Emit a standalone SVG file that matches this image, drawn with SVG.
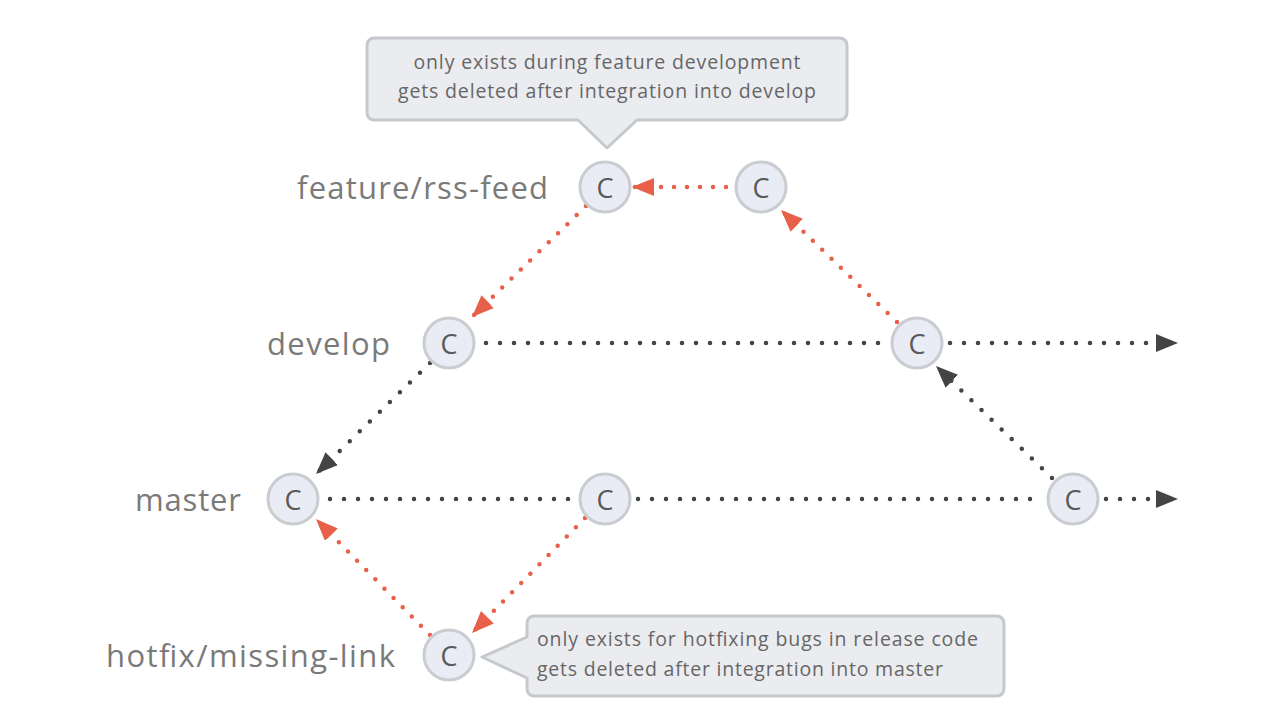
<svg xmlns="http://www.w3.org/2000/svg" width="1278" height="728" viewBox="0 0 1278 728">
<style>
.lbl{font-family:"Open Sans","Liberation Sans",sans-serif;font-size:31px;fill:#7a7a7a;text-anchor:end;dominant-baseline:central}
.node circle{fill:#e9ecf4;stroke:#c9ccd1;stroke-width:3}
.node text{font-family:"Open Sans","Liberation Sans",sans-serif;font-size:27px;fill:#5a5a5a;text-anchor:middle;dominant-baseline:central}
.blk{fill:none;stroke:#444;stroke-width:4.5;stroke-linecap:round;stroke-dasharray:0 14}
.red{fill:none;stroke:#e8604a;stroke-width:4.5;stroke-linecap:round;stroke-dasharray:0 13}
.call{fill:#ebecf0;stroke:#c5c8cc;stroke-width:3;stroke-linejoin:round}
.ct{font-family:"Open Sans","Liberation Sans",sans-serif;font-size:19.5px;fill:#666}
</style>
<defs>
<marker id="ab" viewBox="0 0 22 18" refX="22" refY="9" markerWidth="22" markerHeight="18" markerUnits="userSpaceOnUse" orient="auto"><path d="M0,0 L22,9 L0,18 z" fill="#444"/></marker>
<marker id="ar" viewBox="0 0 22 18" refX="22" refY="9" markerWidth="22" markerHeight="18" markerUnits="userSpaceOnUse" orient="auto"><path d="M0,0 L22,9 L0,18 z" fill="#e8604a"/></marker>
</defs>
<rect width="1278" height="728" fill="#fff"/>
<g id="labels">
<text class="lbl" x="548" y="187" textLength="251" lengthAdjust="spacing">feature/rss-feed</text>
<text class="lbl" x="390" y="343" textLength="123" lengthAdjust="spacing">develop</text>
<text class="lbl" x="241" y="499" textLength="106" lengthAdjust="spacing">master</text>
<text class="lbl" x="395" y="655" textLength="289" lengthAdjust="spacing">hotfix/missing-link</text>
</g>
<g id="connectors">
<path class="red" d="M726,187 H632" marker-end="url(#ar)"/>
<path class="red" d="M586,206 L472,317" marker-end="url(#ar)"/>
<path class="red" d="M897,322 L781,210" marker-end="url(#ar)"/>
<path class="blk" d="M486,343 H885"/>
<path class="blk" d="M950,343 H1160"/>
<path d="M1160,343 H1178" stroke="none" marker-end="url(#ab)"/>
<path class="blk" d="M430,363 L316,474" marker-end="url(#ab)"/>
<path class="blk" d="M330,499 H573"/>
<path class="blk" d="M638,499 H1040"/>
<path class="blk" d="M1106,499 H1160"/>
<path d="M1160,499 H1178" stroke="none" marker-end="url(#ab)"/>
<path class="blk" d="M1052,478 L936,366" marker-end="url(#ab)"/>
<path class="red" d="M585,518 L472,633" marker-end="url(#ar)"/>
<path class="red" d="M430,635 L316,519" marker-end="url(#ar)"/>
</g>
<g id="n-feature1" class="node"><circle cx="605" cy="187" r="25"/><text x="605" y="187">C</text></g>
<g id="n-feature2" class="node"><circle cx="761" cy="187" r="25"/><text x="761" y="187">C</text></g>
<g id="n-develop1" class="node"><circle cx="449" cy="343" r="25"/><text x="449" y="343">C</text></g>
<g id="n-develop2" class="node"><circle cx="917" cy="343" r="25"/><text x="917" y="343">C</text></g>
<g id="n-master1" class="node"><circle cx="293" cy="499" r="25"/><text x="293" y="499">C</text></g>
<g id="n-master2" class="node"><circle cx="605" cy="499" r="25"/><text x="605" y="499">C</text></g>
<g id="n-master3" class="node"><circle cx="1073" cy="499" r="25"/><text x="1073" y="499">C</text></g>
<g id="n-hotfix" class="node"><circle cx="449" cy="655" r="25"/><text x="449" y="655">C</text></g>
<g id="callout-feature">
<path class="call" d="M375,38 H839 Q847,38 847,46 V112 Q847,120 839,120 H637 L607,148 L578,120 H375 Q367,120 367,112 V46 Q367,38 375,38 Z"/>
<text class="ct" x="607" y="69" text-anchor="middle" textLength="387" lengthAdjust="spacing">only exists during feature development</text>
<text class="ct" x="607" y="98" text-anchor="middle" textLength="418" lengthAdjust="spacing">gets deleted after integration into develop</text>
</g>
<g id="callout-hotfix">
<path class="call" d="M535,616 H996 Q1004,616 1004,624 V688 Q1004,696 996,696 H535 Q527,696 527,688 V678 L482,657 L527,637 V624 Q527,616 535,616 Z"/>
<text class="ct" x="537" y="646" textLength="441" lengthAdjust="spacing">only exists for hotfixing bugs in release code</text>
<text class="ct" x="537" y="676" textLength="406" lengthAdjust="spacing">gets deleted after integration into master</text>
</g>
</svg>
